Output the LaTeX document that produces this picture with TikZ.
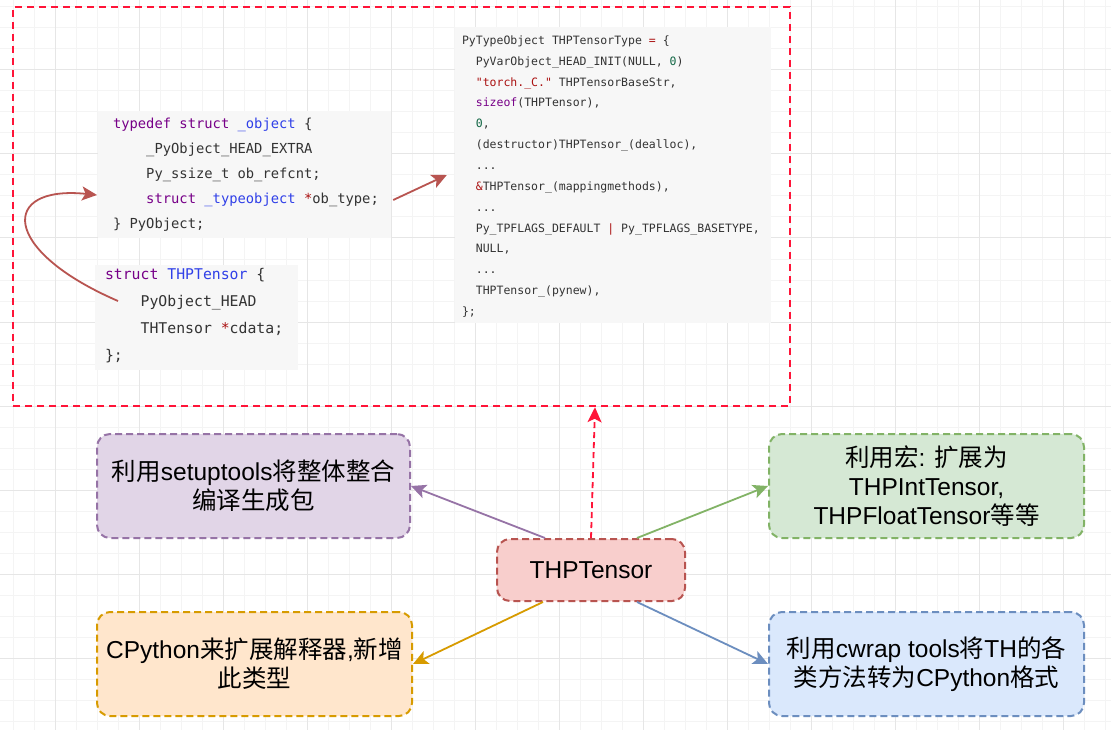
\documentclass[tikz,border=0pt]{standalone}
\usepackage{fontspec}
\setmainfont{Liberation Sans}
\newfontfamily\cjk{Noto Sans CJK SC}
\newfontfamily\codefont{DejaVu Sans Mono}
\usetikzlibrary{arrows.meta}

\definecolor{gridminor}{HTML}{F4F4F4}
\definecolor{gridmajor}{HTML}{E6E6E6}
\definecolor{codebg}{HTML}{F7F7F7}
\definecolor{codetxt}{HTML}{333333}
\definecolor{kwcol}{HTML}{770088}
\definecolor{defcol}{HTML}{3040E8}
\definecolor{opcol}{HTML}{AA1111}
\definecolor{numcol}{HTML}{116644}
\definecolor{framered}{HTML}{FF1438}
\definecolor{redfill}{HTML}{F8CECC}
\definecolor{redline}{HTML}{B85450}
\definecolor{purplefill}{HTML}{E1D5E7}
\definecolor{purpleline}{HTML}{9673A6}
\definecolor{greenfill}{HTML}{D5E8D4}
\definecolor{greenline}{HTML}{82B366}
\definecolor{orangefill}{HTML}{FFE6CC}
\definecolor{orangeline}{HTML}{D79B00}
\definecolor{bluefill}{HTML}{DAE8FC}
\definecolor{blueline}{HTML}{6C8EBF}

\newcommand\kwd[1]{\textcolor{kwcol}{#1}}
\newcommand\idn[1]{\textcolor{defcol}{#1}}
\newcommand\opr[1]{\textcolor{opcol}{#1}}
\newcommand\numb[1]{\textcolor{numcol}{#1}}
\newcommand\codeind[1]{\hspace*{#1\fontcharwd\font`M}}
\newcommand\zh[1]{{\cjk #1}}

\begin{document}
\begin{tikzpicture}[x=1pt,y=-1pt,
	codepanel/.style = {fill=codebg, inner sep=0},
	codetext/.style = {anchor=west, inner sep=0, align=left, text=codetxt},
	redframe/.style = {draw=framered, line width=2.5pt, dash pattern=on 7pt off 5pt, inner sep=0},
	notebox/.style = {rounded corners=13pt, line width=2pt, dash pattern=on 7pt off 4pt,
		minimum width=315pt, minimum height=104pt, align=center, inner sep=0,
		font=\fontsize{24.5}{29}\selectfont},
	link/.style = {line width=1.8pt, -{Stealth[length=15pt,width=14pt,inset=3.5pt]}}]
	\useasboundingbox (0,0) rectangle (1111,730);
	\fill[white] (0,0) rectangle (1111,730);

	% grid
	\foreach \x in {13,34,...,1111}
		\draw[gridminor, line width=1pt] (\x,0) -- (\x,730);
	\foreach \y in {7,28,...,730}
		\draw[gridminor, line width=1pt] (0,\y) -- (1111,\y);
	\foreach \x in {55,139,...,1111}
		\draw[gridmajor, line width=1pt] (\x,0) -- (\x,730);
	\foreach \y in {70,154,...,730}
		\draw[gridmajor, line width=1pt] (0,\y) -- (1111,\y);

	\node[redframe, minimum width=777pt, minimum height=399pt] (frame) at (401.5,206.5) {};

	% code blocks
	\node[codepanel, minimum width=293pt, minimum height=127pt] (objbg) at (244.5,174.5) {};
	\node[codetext, font={\codefont\fontsize{13.8}{25}\selectfont}] (objcode) at ([xshift=15pt]objbg.west)
		{\kwd{typedef} \kwd{struct} \idn{\_object} \{\\
		\codeind{4}\_PyObject\_HEAD\_EXTRA\\
		\codeind{4}Py\_ssize\_t ob\_refcnt;\\
		\codeind{4}\kwd{struct} \idn{\_typeobject} \opr{*}ob\_type;\\
		\} PyObject;};

	\node[codepanel, minimum width=203pt, minimum height=105pt] (thpbg) at (196.5,317.5) {};
	\node[codetext, font={\codefont\fontsize{14.8}{27}\selectfont}] (thpcode) at ([xshift=10pt,yshift=2pt]thpbg.west)
		{\kwd{struct} \idn{THPTensor} \{\\
		\codeind{4}PyObject\_HEAD\\
		\codeind{4}THTensor \opr{*}cdata;\\
		\};};

	\node[codepanel, minimum width=316pt, minimum height=296pt] (typebg) at (613,175) {};
	\node[codetext, font={\codefont\fontsize{11.5}{20.85}\selectfont}] (typecode) at ([xshift=7pt,yshift=-1.5pt]typebg.west)
		{PyTypeObject THPTensorType \opr{=} \{\\
		\codeind{2}PyVarObject\_HEAD\_INIT(NULL, \numb{0})\\
		\codeind{2}\opr{\textquotedbl torch.\_C.\textquotedbl} THPTensorBaseStr,\\
		\codeind{2}\kwd{sizeof}(THPTensor),\\
		\codeind{2}\numb{0},\\
		\codeind{2}(destructor)THPTensor\_(dealloc),\\
		\codeind{2}...\\
		\codeind{2}\opr{\&}THPTensor\_(mappingmethods),\\
		\codeind{2}...\\
		\codeind{2}Py\_TPFLAGS\_DEFAULT \opr{|} Py\_TPFLAGS\_BASETYPE,\\
		\codeind{2}NULL,\\
		\codeind{2}...\\
		\codeind{2}THPTensor\_(pynew),\\
		\};};

	\coordinate (headin) at (118,301);
	\coordinate (typeptr) at (97,195);
	\draw[link, redline] ([xshift=2pt,yshift=-25.5pt]objbg.east) -- ([xshift=-8pt]typebg.west); %ob_type to type
	\draw[link, redline] (headin) .. controls (0,250) and (0,185) .. (typeptr); %head to object

	% boxes
	\node[notebox, draw=redline, fill=redfill, minimum width=188pt, minimum height=62pt] (thp) at (591,570) {THPTensor};
	\node[notebox, draw=purpleline, fill=purplefill, minimum width=313pt] (setup) at (253.5,486)
		{\zh{利用}setuptools\zh{将整体整合}\\\zh{编译生成包}};
	\node[notebox, draw=greenline, fill=greenfill] (macro) at (926.5,486)
		{\zh{利用宏}: \zh{扩展为}\\THPIntTensor,\\THPFloatTensor\zh{等等}};
	\node[notebox, draw=orangeline, fill=orangefill] (cpy) at (254.5,664)
		{CPython\zh{来扩展解释器},\zh{新增}\\\zh{此类型}};
	\node[notebox, draw=blueline, fill=bluefill] (cwrap) at (926.5,664)
		{\zh{利用}cwrap tools\zh{将}TH\zh{的各}\\\zh{类方法转为}CPython\zh{格式}};

	\draw[link, purpleline] ([xshift=-46pt]thp.north) -- (setup.east);
	\draw[link, greenline] ([xshift=46pt]thp.north) -- (macro.west);
	\draw[link, orangeline] ([xshift=-48pt]thp.south) -- (cpy.east);
	\draw[link, blueline] ([xshift=46pt]thp.south) -- (cwrap.west);
	\draw[link, framered, dash pattern=on 6pt off 4pt] (thp.north) -- ([xshift=193.5pt]frame.south);
\end{tikzpicture}
\end{document}
